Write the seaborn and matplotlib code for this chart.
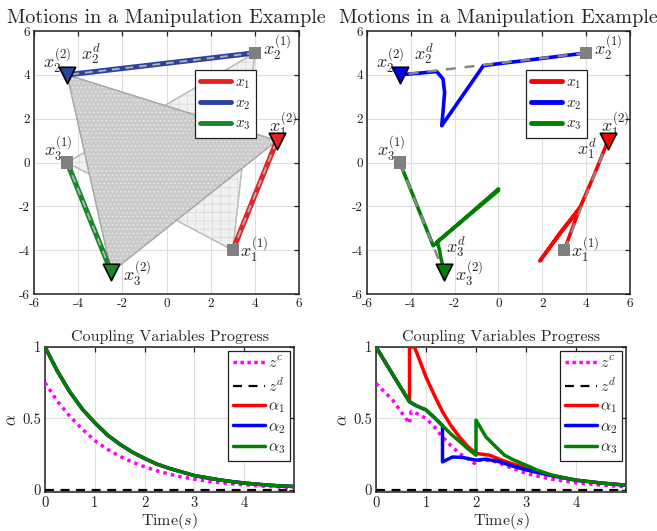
import numpy as np
import pandas as pd
import matplotlib
matplotlib.use("Agg")
import matplotlib.pyplot as plt
from matplotlib.lines import Line2D
import seaborn as sns

# ---------------- data ----------------
# start / goal positions of the three agents
start_x = [3.0, 4.0, -4.5]
start_y = [-4.0, 5.0, 0.0]
goal_x = [5.0, -4.5, -2.5]
goal_y = [1.0, 4.0, -5.0]

# right panel trajectories
traj1_x = [3.0, 3.72, 3.3, 2.75, 1.89, 2.8, 3.35, 3.72, 4.33, 5.0]
traj1_y = [-4.0, -2.05, -2.62, -3.32, -4.49, -3.22, -2.52, -2.05, -0.65, 1.0]
traj2_x = [4.0, -0.69, -2.59, -2.52, -2.46, -2.53, -2.82, -4.5]
traj2_y = [5.0, 4.42, 1.68, 2.44, 3.2, 3.81, 4.15, 4.0]
traj3_x = [-4.5, -2.98, 0.0, 0.0, -2.8, -2.7, -2.64, -2.56, -2.5]
traj3_y = [0.0, -3.8, -1.2, -1.28, -3.62, -3.95, -4.3, -4.65, -5.0]

series_names = ["$x_1$", "$x_2$", "$x_3$"]
goal_labels = ["$x_1^{(2)}$", "$x_2^{(2)}$", "$x_3^{(2)}$"]
start_labels = ["$x_1^{(1)}$", "$x_2^{(1)}$", "$x_3^{(1)}$"]

# coupling variables, left (nominal) case
t_left = [0, 0.25, 0.5, 0.75, 1.0, 1.25, 1.5, 1.75, 2.0, 2.25, 2.5, 2.75,
          3.0, 3.25, 3.5, 3.75, 4.0, 4.25, 4.5, 4.75, 5.0]
alpha_left = [1.0, 0.83, 0.685, 0.565, 0.47, 0.385, 0.32, 0.265, 0.22, 0.18,
              0.15, 0.125, 0.10, 0.085, 0.07, 0.058, 0.048, 0.04, 0.033,
              0.027, 0.024]
zc_left = [0.75, 0.62, 0.515, 0.425, 0.345, 0.285, 0.235, 0.195, 0.162,
           0.133, 0.11, 0.09, 0.075, 0.062, 0.051, 0.042, 0.035, 0.029,
           0.024, 0.02, 0.016]
zd_t = [0.0, 5.0]
zd_v = [0.0, 0.0]

# coupling variables, right (perturbed) case
t_a1 = [0, 0.33, 0.67, 0.67, 0.77, 0.87, 1.0, 1.17, 1.33, 1.5, 1.67, 1.83,
        2.0, 2.27, 2.5, 2.75, 3.0, 3.5, 4.0, 4.5, 5.0]
a1 = [1.0, 0.81, 0.617, 1.0, 1.0, 0.91, 0.79, 0.66, 0.547, 0.45, 0.37,
      0.305, 0.255, 0.243, 0.21, 0.18, 0.155, 0.103, 0.068, 0.048, 0.033]
t_a2 = [0, 0.33, 0.67, 0.8, 1.0, 1.17, 1.33, 1.33, 1.53, 1.73, 2.0, 2.2,
        2.48, 2.75, 3.0, 3.5, 4.0, 4.5, 5.0]
a2 = [1.0, 0.81, 0.617, 0.59, 0.56, 0.505, 0.45, 0.196, 0.23, 0.227, 0.208,
      0.215, 0.196, 0.165, 0.14, 0.1, 0.068, 0.048, 0.033]
t_a3 = [0, 0.33, 0.67, 0.8, 1.0, 1.17, 1.33, 1.5, 1.67, 1.83, 2.0, 2.0, 2.2,
        2.4, 2.57, 2.75, 3.0, 3.25, 3.5, 3.75, 4.0, 4.5, 5.0]
a3 = [1.0, 0.81, 0.617, 0.59, 0.56, 0.505, 0.45, 0.39, 0.34, 0.29, 0.243,
      0.488, 0.37, 0.3, 0.243, 0.21, 0.173, 0.135, 0.105, 0.085, 0.068,
      0.048, 0.033]
t_zc = [0, 0.33, 0.67, 0.7, 0.85, 1.0, 1.17, 1.33, 1.5, 1.67, 1.83, 1.97,
        2.0, 2.33, 2.57, 3.0, 3.5, 4.0, 4.5, 5.0]
zc_right = [0.745, 0.63, 0.465, 0.547, 0.53, 0.5, 0.44, 0.37, 0.31, 0.255,
            0.22, 0.185, 0.208, 0.205, 0.173, 0.115, 0.075, 0.05, 0.033,
            0.022]

pos_ticks = [-6, -4, -2, 0, 2, 4, 6]
pos_ticklabels = ["-6", "-4", "-2", "0", "2", "4", "6"]
time_ticks = [0, 1, 2, 3, 4]
alpha_ticks = [0, 0.5, 1]
alpha_ticklabels = ["0", "0.5", "1"]

# ---------------- style ----------------
sns.set_style("white")
plt.rcParams["font.family"] = ["cmr10", "DejaVu Serif"]
plt.rcParams["mathtext.fontset"] = "cm"
plt.rcParams["axes.unicode_minus"] = False
plt.rcParams["hatch.linewidth"] = 0.6

left_colors = ["#e62222", "#2a42a0", "#17882a"]
right_colors = ["#ff0000", "#0000ff", "#008000"]
gray_sq = "#808080"
grid_c = "#dedede"

fig = plt.figure(figsize=(6.57, 5.31), dpi=100)
ax_tl = fig.add_axes([0.0518, 0.4463, 0.4033, 0.4953])
ax_tr = fig.add_axes([0.5586, 0.4463, 0.4003, 0.4953])
ax_bl = fig.add_axes([0.0685, 0.0734, 0.379, 0.2731])
ax_br = fig.add_axes([0.5723, 0.0734, 0.3805, 0.2731])


def style_axes(ax, tick_fs):
    ax.grid(True, color=grid_c, lw=0.8)
    ax.set_axisbelow(True)
    for s in ax.spines.values():
        s.set_color("#202020")
        s.set_linewidth(1.1)
    ax.tick_params(direction="in", top=True, right=True, length=3.5,
                   width=0.9, labelsize=tick_fs, colors="#202020", pad=3)


def top_panel(ax, colors):
    ax.set_xlim(-6, 6)
    ax.set_ylim(-6, 6)
    ax.set_xticks(pos_ticks)
    ax.set_xticklabels(pos_ticklabels)
    ax.set_yticks(pos_ticks)
    ax.set_yticklabels(pos_ticklabels)
    style_axes(ax, 9.5)
    ax.set_title("Motions in a Manipulation Example", fontsize=14.5, pad=6)


def place_labels(ax):
    lab_fs = 13
    ax.text(4.35, 5.2, start_labels[1], fontsize=lab_fs, ha="left", va="center")
    ax.text(-4.95, 4.6, goal_labels[1], fontsize=lab_fs, ha="center", va="center")
    ax.text(-3.4, 4.95, "$x_2^d$", fontsize=lab_fs, ha="center", va="center")
    ax.text(5.3, 1.7, goal_labels[0], fontsize=lab_fs, ha="center", va="center")
    ax.text(-4.9, 0.6, start_labels[2], fontsize=lab_fs, ha="center", va="center")
    ax.text(3.95, -4.0, start_labels[0], fontsize=lab_fs, ha="center", va="center")
    ax.text(-1.35, -5.1, goal_labels[2], fontsize=lab_fs, ha="center", va="center")


def markers(ax, colors):
    sns.scatterplot(x=start_x, y=start_y, marker="s", s=75, color=gray_sq,
                    edgecolor="none", ax=ax, zorder=6, legend=False)
    for i in range(3):
        sns.scatterplot(x=[goal_x[i]], y=[goal_y[i]], marker="v", s=140,
                        color=colors[i], edgecolor="black", linewidth=1.2,
                        ax=ax, zorder=7, legend=False)


def top_legend(ax, colors):
    handles = [Line2D([0], [0], color=c, lw=3.5) for c in colors]
    leg = ax.legend(handles, series_names, loc="upper right",
                    bbox_to_anchor=(0.838, 0.85), fontsize=11,
                    frameon=True, fancybox=False, framealpha=1,
                    edgecolor="#202020", handlelength=2.0,
                    borderpad=0.35, labelspacing=0.35, handletextpad=0.3,
                    borderaxespad=0)
    leg.get_frame().set_linewidth(0.9)
    leg.set_zorder(10)


# ---------- top-left ----------
ax = ax_tl
top_panel(ax, left_colors)
# initial formation (light, grid-hatched)
ax.fill(start_x, start_y, facecolor="#f1f1f1", edgecolor="#bcbcbc", lw=0.9, zorder=1)
ax.fill(start_x, start_y, facecolor="none", edgecolor="#dcdcdc", hatch="++",
        lw=0, zorder=1.1)
ax.fill(start_x, start_y, facecolor="none", edgecolor="#bcbcbc", lw=0.9, zorder=1.2)
# final formation (darker, dotted)
ax.fill(goal_x, goal_y, facecolor="#cbcbcb", edgecolor="#a8a8a8", lw=0.9, zorder=2)
ax.fill(goal_x, goal_y, facecolor="none", edgecolor="#e8e8e8", hatch="....",
        lw=0, zorder=2.1)
ax.fill(goal_x, goal_y, facecolor="none", edgecolor="#a8a8a8", lw=0.9, zorder=2.2)
for i in range(3):
    sns.lineplot(x=[start_x[i], goal_x[i]], y=[start_y[i], goal_y[i]],
                 sort=False, estimator=None, color=left_colors[i], lw=3.8,
                 ax=ax, zorder=4)
    ax.plot([start_x[i], goal_x[i]], [start_y[i], goal_y[i]], color="#b0b0b0",
            lw=1.4, dashes=(4, 3), zorder=5)
markers(ax, left_colors)
place_labels(ax)
top_legend(ax, left_colors)

# ---------- top-right ----------
ax = ax_tr
top_panel(ax, right_colors)
trajs = [(traj1_x, traj1_y), (traj2_x, traj2_y), (traj3_x, traj3_y)]
for i, (tx, ty) in enumerate(trajs):
    sns.lineplot(x=tx, y=ty, sort=False, estimator=None,
                 color=right_colors[i], lw=2.6, ax=ax, zorder=4)
    ax.plot([start_x[i], goal_x[i]], [start_y[i], goal_y[i]], color="#888888",
            lw=1.8, dashes=(4, 3.5), zorder=5)
markers(ax, right_colors)
place_labels(ax)
ax.text(4.05, 0.65, "$x_1^d$", fontsize=13, ha="center", va="center")
ax.text(-1.95, -3.85, "$x_3^d$", fontsize=13, ha="center", va="center")
top_legend(ax, right_colors)


# ---------- bottom panels ----------
def bottom_panel(ax):
    ax.set_xlim(0, 5)
    ax.set_ylim(-0.015, 1)
    ax.set_xticks(time_ticks)
    ax.set_yticks(alpha_ticks)
    ax.set_yticklabels(alpha_ticklabels)
    style_axes(ax, 10.5)
    ax.set_title("Coupling Variables Progress", fontsize=11.5, pad=4)


def bottom_legend(ax):
    handles = [
        Line2D([0], [0], color="#ff00ff", lw=2.5, ls=(0, (1, 1))),
        Line2D([0], [0], color="black", lw=1.6, dashes=(4, 3)),
        Line2D([0], [0], color=right_colors[0], lw=2.5),
        Line2D([0], [0], color=right_colors[1], lw=2.5),
        Line2D([0], [0], color=right_colors[2], lw=2.5),
    ]
    labels = ["$z^c$", "$z^d$", r"$\alpha_1$", r"$\alpha_2$", r"$\alpha_3$"]
    leg = ax.legend(handles, labels, loc="upper right", fontsize=11.5,
                    frameon=True, fancybox=False, framealpha=1,
                    edgecolor="#202020", handlelength=2.0, borderpad=0.3,
                    labelspacing=0.3, handletextpad=0.2, borderaxespad=0.25)
    leg.get_frame().set_linewidth(0.9)


def bottom_labels(ax):
    ax.set_xlabel("Time$(s)$", fontsize=11.5, labelpad=1)
    ax.set_ylabel(r"$\alpha$", fontsize=12, labelpad=2)


ax = ax_bl
bottom_panel(ax)
dl = pd.DataFrame({"t": t_left, "alpha": alpha_left, "zc": zc_left})
sns.lineplot(data=dl, x="t", y="zc", color="#ff00ff", lw=2.5,
             ls=(0, (1, 1.2)), ax=ax, zorder=3)
sns.lineplot(x=zd_t, y=zd_v, color="black", lw=1.6, dashes=(4, 3), ax=ax, zorder=3)
for c in right_colors:
    sns.lineplot(data=dl, x="t", y="alpha", color=c, lw=2.5, ax=ax, zorder=4)
bottom_labels(ax)
bottom_legend(ax)

ax = ax_br
bottom_panel(ax)
sns.lineplot(x=t_zc, y=zc_right, sort=False, estimator=None, color="#ff00ff",
             lw=2.5, ls=(0, (1, 1.2)), ax=ax, zorder=3)
sns.lineplot(x=zd_t, y=zd_v, color="black", lw=1.6, dashes=(4, 3), ax=ax, zorder=3)
sns.lineplot(x=t_a1, y=a1, sort=False, estimator=None, color=right_colors[0],
             lw=2.5, ax=ax, zorder=4)
sns.lineplot(x=t_a2, y=a2, sort=False, estimator=None, color=right_colors[1],
             lw=2.5, ax=ax, zorder=4)
sns.lineplot(x=t_a3, y=a3, sort=False, estimator=None, color=right_colors[2],
             lw=2.5, ax=ax, zorder=4)
bottom_labels(ax)
bottom_legend(ax)

fig.savefig("out.png", dpi=100)
